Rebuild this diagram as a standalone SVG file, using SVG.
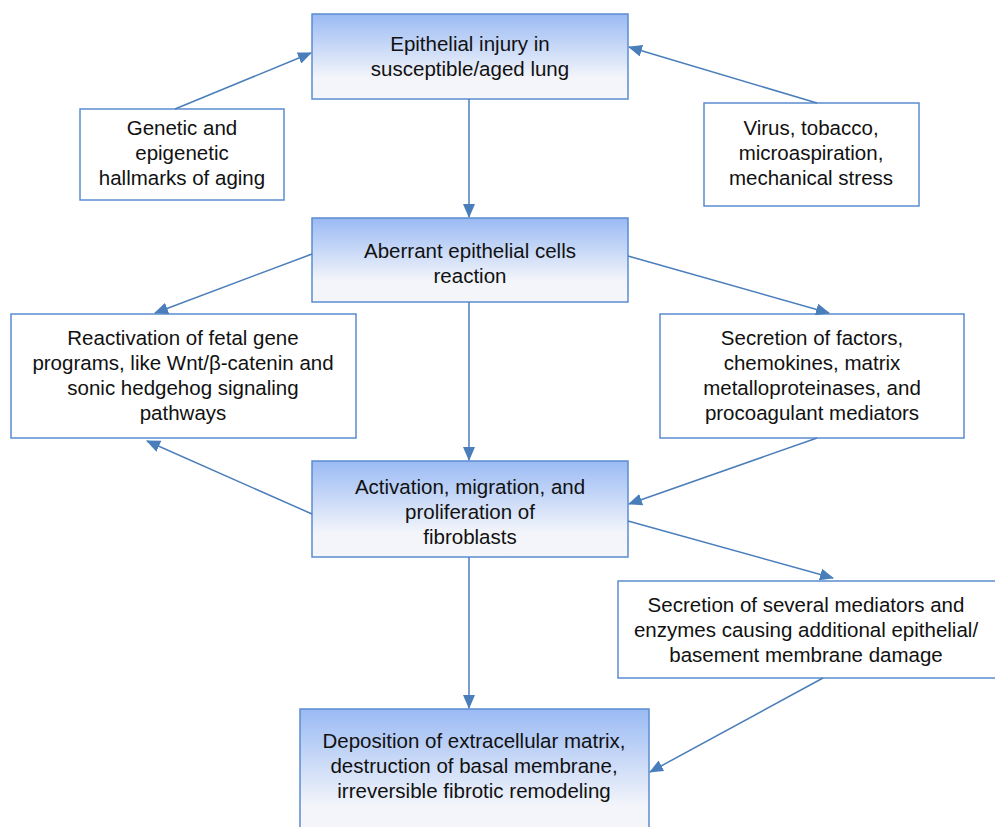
<svg xmlns="http://www.w3.org/2000/svg" width="995" height="827" viewBox="0 0 995 827">
<style>
.box{fill:#fff;stroke:#5b8ccf;stroke-width:1.5}
.gbox{fill:url(#g);stroke:#5b8ccf;stroke-width:1.5}
text{font-family:"Liberation Sans",Arial,sans-serif;font-size:20.5px;fill:#111;text-anchor:middle}
.c path{fill:none;stroke:#4a7ebb;stroke-width:1.5;marker-end:url(#a)}
</style>
<defs>
<linearGradient id="g" x1="0" y1="0" x2="0" y2="1">
<stop offset="0" stop-color="#9abaf4"/>
<stop offset="0.75" stop-color="#f3f5fa"/>
<stop offset="1" stop-color="#f5f6fa"/>
</linearGradient>
<marker id="a" markerWidth="14" markerHeight="12" refX="13" refY="6" orient="auto" markerUnits="userSpaceOnUse" viewBox="0 0 14 12">
<path d="M0,0 L14,6 L0,12 Z" fill="#4a7ebb"/>
</marker>
</defs>
<g id="n1"><rect class="gbox" x="312" y="14" width="316" height="85"/>
<text x="470" y="51">Epithelial injury in</text><text x="470" y="76">susceptible/aged lung</text></g>
<g id="n2"><rect class="box" x="80" y="109" width="204" height="91"/>
<text x="182" y="135">Genetic and</text><text x="182" y="160">epigenetic</text><text x="182" y="185">hallmarks of aging</text></g>
<g id="n3"><rect class="box" x="704" y="103" width="215" height="103"/>
<text x="811" y="135">Virus, tobacco,</text><text x="811" y="160">microaspiration,</text><text x="811" y="185">mechanical stress</text></g>
<g id="n4"><rect class="gbox" x="312" y="218" width="316" height="84"/>
<text x="470" y="258">Aberrant epithelial cells</text><text x="470" y="283">reaction</text></g>
<g id="n5"><rect class="box" x="11" y="314" width="345" height="124"/>
<text x="183" y="345">Reactivation of fetal gene</text><text x="183" y="370">programs, like Wnt/β-catenin and</text><text x="183" y="395">sonic hedgehog signaling</text><text x="183" y="420">pathways</text></g>
<g id="n6"><rect class="box" x="660" y="314" width="304" height="124"/>
<text x="812" y="345">Secretion of factors,</text><text x="812" y="370">chemokines, matrix</text><text x="812" y="395">metalloproteinases, and</text><text x="812" y="420">procoagulant mediators</text></g>
<g id="n7"><rect class="gbox" x="312" y="461" width="316" height="96"/>
<text x="470" y="494">Activation, migration, and</text><text x="470" y="519">proliferation of</text><text x="470" y="544">fibroblasts</text></g>
<g id="n8"><rect class="box" x="618" y="581" width="380" height="97"/>
<text x="806" y="612">Secretion of several mediators and</text><text x="806" y="637">enzymes causing additional epithelial/</text><text x="806" y="662">basement membrane damage</text></g>
<g id="n9"><rect class="gbox" x="300" y="709" width="349" height="130"/>
<text x="474" y="748">Deposition of extracellular matrix,</text><text x="474" y="773">destruction of basal membrane,</text><text x="474" y="798">irreversible fibrotic remodeling</text></g>
<g class="c">
<path d="M175,109 L311,53"/>
<path d="M817,103 L629,47"/>
<path d="M469,99 L469,217"/>
<path d="M312,254 L155,313"/>
<path d="M628,256 L829,313"/>
<path d="M469,302 L469,460"/>
<path d="M312,514 L147,441"/>
<path d="M817,438 L629,504"/>
<path d="M628,521 L833,578"/>
<path d="M469,557 L469,708"/>
<path d="M823,678 L650,772"/>
</g>
</svg>
